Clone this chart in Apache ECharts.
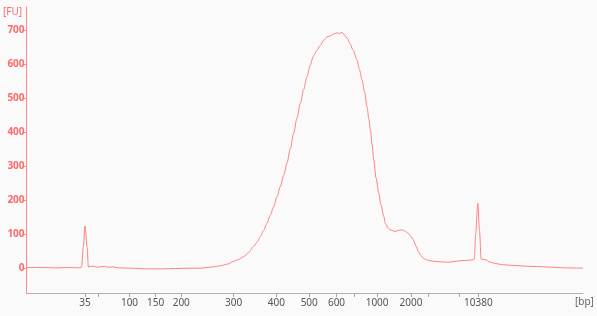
<!DOCTYPE html>
<html>
<head>
<meta charset="utf-8">
<script src="https://cdn.jsdelivr.net/npm/echarts@6/dist/echarts.min.js"></script>
<style>
html,body{margin:0;padding:0;background:#fafafa;}
#chart{width:597px;height:316px;}
</style>
</head>
<body>
<div id="chart"></div>
<script>
// Migration time (s) and fluorescence (FU)
var migrationTime = [
  15.0,17.5,20.2,22.9,24.3,24.9,25.2,25.5,25.9,26.1,27.0,27.7,29.0,29.7,30.6,31.5,33.7,36.4,39.1,41.8,
  44.4,46.2,48.0,49.8,51.1,52.2,53.1,54.0,54.9,55.8,56.5,57.0,57.6,58.2,58.8,59.4,60.0,60.6,61.2,61.8,
  62.4,63.0,63.6,64.2,64.8,65.4,66.0,66.5,67.2,67.8,68.4,69.0,69.6,70.1,70.8,71.2,71.7,72.1,72.7,73.1,
  73.7,74.4,74.8,75.3,75.7,76.2,76.5,76.8,77.1,77.4,77.8,78.3,78.7,79.2,79.5,80.0,80.3,80.9,81.2,81.8,
  82.5,83.0,83.6,84.1,84.5,85.0,85.4,85.9,86.3,87.0,87.5,88.4,89.3,90.2,91.1,92.0,92.9,94.0,95.0,95.5,
  95.7,96.1,96.4,96.7,97.4,98.3,99.2,100.7,102.8,104.6,106.7,109.1,111.8,115.0
];
var fluorescence = [
  1,1,0,1,0,2,60,123,60,3,5,2,4,2,3,0,-1,-3,-3,-2,
  -1,-1,2,6,11,19,25,33,45,63,77,92,110,131,155,180,209,239,272,308,
  350,396,441,484,525,563,597,622,641,655,670,680,683,688,692,690,693,686,675,661,
  640,612,585,553,520,474,440,406,363,318,265,220,185,151,130,117,112,109,107,110,
  112,108,102,93,82,64,48,36,28,23,21,19,18,17,17,19,21,22,23,26,
  100,190,110,26,24,17,13,9,7,5,4,2,0,-1
];
// Size-standard ticks on the time axis
var tickTimes  = [25.5, 27.9, 33.5, 38.2, 42.8, 52.2, 59.9, 65.8, 70.7, 73.9, 78.0, 84.1, 87.2, 92.7, 96.2];
var tickLabels = ['35', '', '100', '150', '200', '300', '400', '500', '600', '', '1000', '2000', '', '', '10380'];
var yTicks = [0, 100, 200, 300, 400, 500, 600, 700];

var labelMap = {};
tickTimes.forEach(function (t, i) { labelMap[t] = tickLabels[i]; });
var seriesData = migrationTime.map(function (t, i) { return [t, fluorescence[i]]; });

var chart = echarts.init(document.getElementById('chart'));
chart.setOption({
  backgroundColor: '#fafafa',
  animation: false,
  grid: { left: 26, right: 14, top: 7, bottom: 23 },
  xAxis: {
    type: 'value', min: 15, max: 115,
    name: '[bp]', nameLocation: 'end', nameGap: -8,
    nameTextStyle: { color: '#666', fontSize: 10, fontFamily: 'Noto Sans', align: 'left', verticalAlign: 'top', padding: [4, 0, 0, 0] },
    axisLine: { onZero: false, lineStyle: { color: '#b0b0b0', width: 1 } },
    axisTick: { show: true, length: 4, lineStyle: { color: '#a8a8a8' }, customValues: tickTimes },
    axisLabel: {
      customValues: tickTimes, color: '#555', fontSize: 10, fontFamily: 'Noto Sans', margin: 5,
      formatter: function (v) { return labelMap[v] !== undefined ? labelMap[v] : ''; }
    },
    splitLine: { show: false }
  },
  yAxis: {
    type: 'value', min: -74, max: 768,
    name: '[FU]', nameLocation: 'end', nameGap: 0,
    nameTextStyle: { color: '#ff6a6a', fontSize: 10, fontFamily: 'Noto Sans', align: 'center', verticalAlign: 'top', padding: [0, 0, 0, -28] },
    axisLine: { show: true, onZero: false, lineStyle: { color: '#ff8c8c', width: 1 } },
    axisTick: { show: true, length: 4, lineStyle: { color: '#ff8c8c' }, customValues: yTicks },
    axisLabel: { customValues: yTicks, color: '#ff6a6a', fontSize: 10, fontWeight: 'bold', fontFamily: 'Noto Sans', margin: 2 },
    splitLine: { show: false }
  },
  series: [{
    type: 'line', data: seriesData, showSymbol: false, smooth: 0.3, smoothMonotone: 'x',
    lineStyle: { color: '#ff8080', width: 1 }
  }]
});
</script>
</body>
</html>
